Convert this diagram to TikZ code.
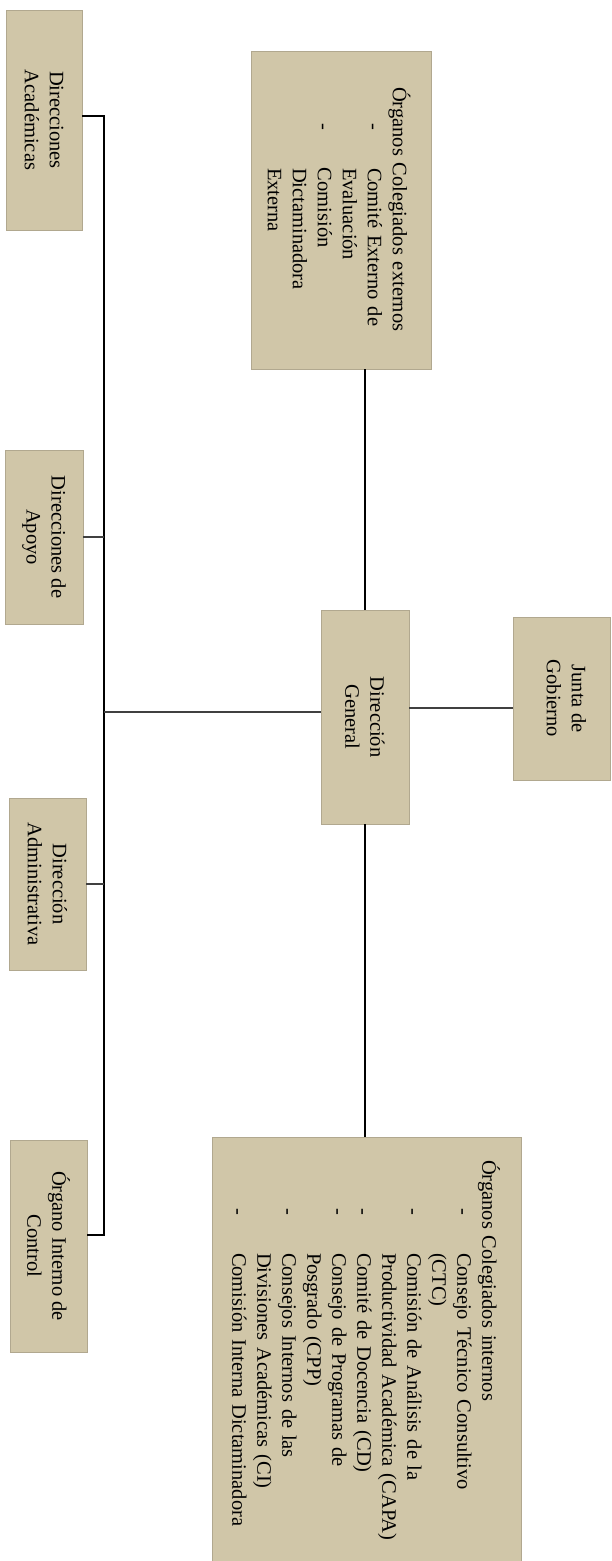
\documentclass[tikz,border=0pt]{standalone}
\usepackage{fontspec}
\setmainfont{Liberation Serif}
\usetikzlibrary{calc}
\definecolor{boxtan}{RGB}{208,198,168}
\tikzset{
  box/.style={fill=boxtan, draw=boxtan!85!black, line width=0.3pt, inner sep=0pt},
  lbl/.style={rotate=-90, align=center, inner sep=0pt, font=\fontsize{20.5}{25}\selectfont},
  lst/.style={rotate=-90, align=left, inner sep=0pt, font=\fontsize{20.5}{25}\selectfont},
  conn/.style={line width=1.3pt, black},
  hconn/.style={line width=1.7pt, black!75},
}
\newcommand{\itm}[2]{\hspace*{#1pt}\makebox[45pt][l]{-}#2}
\newcommand{\cnt}[2]{\hspace*{#1pt}#2}
\begin{document}
\begin{tikzpicture}[x=1pt,y=-1pt]
\useasboundingbox (0,0) rectangle (611,1561);
% boxes
\node[box, minimum width=76pt, minimum height=220pt] (da) at (44,120) {};
\node[box, minimum width=180pt, minimum height=318pt] (oce) at (341,210) {};
\node[box, minimum width=78pt, minimum height=174pt] (dda) at (44,537) {};
\node[box, minimum width=88pt, minimum height=214pt] (dg) at (365,717) {};
\node[box, minimum width=97pt, minimum height=163pt] (jg) at (561.5,698.5) {};
\node[box, minimum width=77pt, minimum height=172pt] (dad) at (47.5,884) {};
\node[box, minimum width=77pt, minimum height=212pt] (oic) at (48.5,1246) {};
\node[box, minimum width=309pt, minimum height=424pt] (oci) at (366.5,1349) {};
% texts
\node[lbl] (da-t) at (da) {Direcciones\\Académicas};
\node[lbl] (dda-t) at (dda) {Direcciones de\\Apoyo};
\node[lbl] (dg-t) at (dg) {Dirección\\General};
\node[lbl] (jg-t) at ($(jg)+(5,0)$) {Junta de\\Gobierno};
\node[lbl] (dad-t) at (dad) {Dirección\\Administrativa};
\node[lbl] (oic-t) at (oic) {Órgano Interno de\\Control};
\node[lst, text width=250pt] (oce-t) at (339,212) {Órganos Colegiados externos\\
\itm{36}{Comité Externo de}\\
\cnt{81}{Evaluación}\\
\itm{36}{Comisión}\\
\cnt{81}{Dictaminadora}\\
\cnt{81}{Externa}};
\node[lst, text width=390pt] (oci-t) at (366,1355) {Órganos Colegiados internos\\
\itm{48}{Consejo Técnico Consultivo}\\
\cnt{93}{(CTC)}\\
\itm{48}{Comisión de Análisis de la}\\
\cnt{93}{Productividad Académica (CAPA)}\\
\itm{48}{Comité de Docencia (CD)}\\
\itm{48}{Consejo de Programas de}\\
\cnt{93}{Posgrado (CPP)}\\
\itm{48}{Consejos Internos de las}\\
\cnt{93}{Divisiones Académicas (CI)}\\
\itm{48}{Comisión Interna Dictaminadora}};
% connectors
\coordinate (mx) at (104,0);
\coordinate (dac) at ($(da.east)+(0,-4)$);
\coordinate (oicc) at ($(oic.east)+(0,-11)$);
\coordinate (dgw) at ($(dg.west)+(0,-5)$);
\coordinate (dge) at ($(dg.east)+(0,-9)$);
\draw[conn] (dac) -- (dac -| mx) -- (oicc -| mx) -- (oicc);
\draw[hconn] (dda.east) -- (dda.east -| mx);
\draw[hconn] (dad.east) -- (dad.east -| mx);
\draw[hconn] (dgw) -- (dgw -| mx);
\draw[hconn] (dge) -- (dge -| jg.west);
\draw[conn] (dg.north) -- (dg.north |- oce.south);
\draw[conn] (dg.south) -- (dg.south |- oci.north);
\end{tikzpicture}
\end{document}
